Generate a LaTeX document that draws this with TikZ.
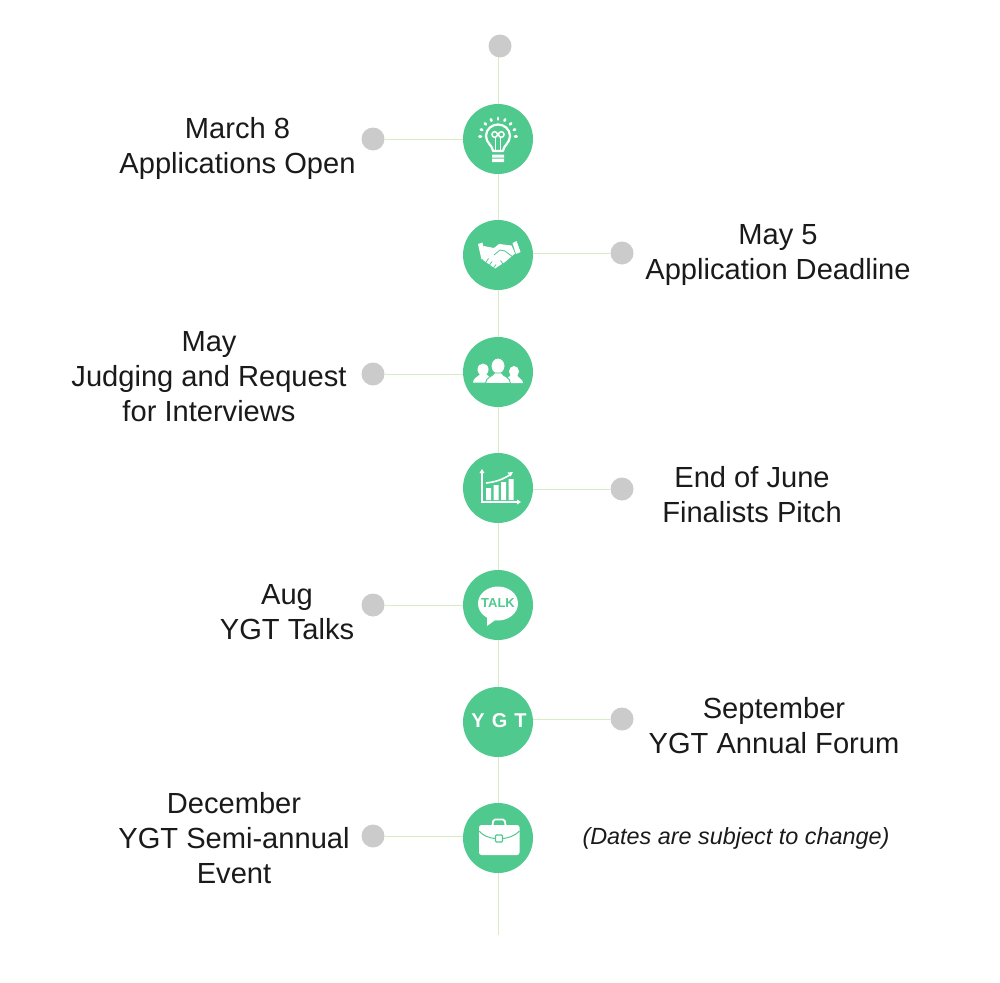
\documentclass[tikz,border=0pt]{standalone}
\usepackage{fontspec}
\setmainfont{Liberation Sans}
\usetikzlibrary{positioning, backgrounds, calc}
\definecolor{stepgreen}{HTML}{50C98E}
\definecolor{linkgreen}{HTML}{D6EDC4}
\definecolor{dotgray}{HTML}{CBCBCB}
\definecolor{labelblack}{HTML}{1A1A1A}

\begin{document}
\begin{tikzpicture}[x=1pt, y=-1pt,
    % Big green circles on the line
    stepcircle/.style={circle, fill=stepgreen, minimum size=70pt, inner sep=0pt},
    % Small gray dots
    graydot/.style={circle, fill=dotgray, minimum size=23pt, inner sep=0pt},
    link/.style={draw=linkgreen, line width=0.9pt},
    % Labels
    steplabel/.style={font=\fontsize{29.1}{35}\selectfont, text=labelblack, align=center, inner sep=0pt},
    notelabel/.style={font=\fontsize{23.4}{28}\selectfont\itshape, text=labelblack, inner sep=0pt},
    % Icon parts
    iconline/.style={draw=white, line width=2.2pt},
    iconcut/.style={draw=stepgreen, line width=0.8pt}
]
\useasboundingbox (0,0) rectangle (1000,982);

% Dots and circles
\node[graydot] (topdot) at (500,46) {};
\coordinate (lineend) at (498.7,935);
\foreach \i/\y in {1/139, 2/255, 3/372, 4/488, 5/605, 6/722, 7/838} {
    \node[stepcircle] (step\i) at (498,\y) {};
}
\foreach \i/\x/\y in {1/373/139, 2/622/253, 3/373/374, 4/622/489, 5/373/605, 6/622/719, 7/373/836} {
    \node[graydot] (dot\i) at (\x,\y) {};
}

% Connectors behind everything
\begin{scope}[on background layer]
    \draw[link] (lineend |- topdot) -- (lineend);
    \foreach \i in {1,...,7} {
        \draw[link] (dot\i) -- (dot\i -| step\i);
    }
\end{scope}

% Labels
\node[steplabel] (label1) at (237.5,148) {March 8\\Applications Open};
\node[steplabel] (label2) at (778,255) {May 5\\Application Deadline};
\node[steplabel] (label3) at (209,377) {May\\Judging and Request\\for Interviews};
\node[steplabel] (label4) at (752,495) {End of June\\Finalists Pitch};
\node[steplabel] (label5) at (287,612) {Aug\\YGT Talks};
\node[steplabel] (label6) at (774,726) {September\\YGT Annual Forum};
\node[steplabel] (label7) at (234,838) {December\\YGT Semi-annual\\Event};
\node[notelabel] (note) at (736,838) {(Dates are subject to change)};

% Light bulb
\begin{scope}[shift={(step1.center)}]
    \draw[iconline, line join=round] (-5,12) .. controls (-5,7) and (-12,4) .. (-12,-3) .. controls (-12,-10) and (-6,-14.5) .. (0,-14.5) .. controls (6,-14.5) and (12,-10) .. (12,-3) .. controls (12,4) and (5,7) .. (5,12) -- cycle;
    \draw[iconline, line width=1.5pt] (-2.5,12) -- (-2.5,-2) (2.5,12) -- (2.5,-2);
    \draw[iconline, line width=1.5pt] (-3.3,-4.5) circle (2.8) (3.3,-4.5) circle (2.8);
    \fill[white] (-6,15.5) rectangle (6,18.5) (-6,19.7) rectangle (6,23);
    \foreach \a in {180,202.5,...,360} {
        \draw[iconline, line width=2.6pt, line cap=round] ($(0,-2.5)+(\a:17)$) -- ($(0,-2.5)+(\a:18.6)$);
    }
\end{scope}

% Handshake
\begin{scope}[shift={(step2.center)}]
    \fill[white] (-20,-11) -- (-15.5,-12.5) -- (-12,3) -- (-16.5,4.5) -- cycle;
    \fill[white] (14.5,-12) -- (18.5,-14) -- (22.5,-3) -- (18,-1) -- cycle;
    \fill[white] (-14.5,-9) -- (-4,-7) -- (1,-11) -- (13.5,-9.5) -- (17,-1.5) -- (7,7) -- (-3,13.5) -- (-15,5) -- cycle;
    \draw[iconcut] (-4,0) -- (2,-5) -- (7,-4) -- (15.5,2.5);
    \draw[iconcut] (-12,7.2) -- (-9.5,3.5) (-8.5,10) -- (-6,6.5) (-4.5,13) -- (-2,9.5) (5,9) -- (2.5,5.5);
\end{scope}

% People
\begin{scope}[shift={(step3.center)}]
    \fill[white] (-15,-2.5) ellipse (5.5 and 6);
    \fill[white] (16,-0.5) ellipse (5 and 5.5);
    \fill[white] (-25,10.5) .. controls (-25,6) and (-20,5) .. (-18,2) -- (-12,2) .. controls (-10,4) and (-6,6) .. (-5,10.5) -- cycle;
    \fill[white] (25,11) .. controls (25,7) and (20,6) .. (19,3) -- (13,3) .. controls (11,5) and (7,7) .. (6,11) -- cycle;
    \draw[fill=white, draw=stepgreen, line width=0.9pt] (0,-6) ellipse (7 and 8);
    \draw[fill=white, draw=stepgreen, line width=0.9pt] (-12.5,11.5) .. controls (-12.5,5) and (-5,4.5) .. (-3.5,1) -- (3.5,1) .. controls (5,4.5) and (12.5,5) .. (12.5,11.5) -- cycle;
\end{scope}

% Chart
\begin{scope}[shift={(step4.center)}]
    \draw[iconline, line width=1.2pt] (-16,-16) -- (-16,14) -- (21,14);
    \fill[white] (-16,-19) -- (-18.5,-15) -- (-13.5,-15) -- cycle;
    \fill[white] (23,14) -- (19,11.5) -- (19,16.5) -- cycle;
    \fill[white] (-12,0) rectangle (-7,12) (-4.5,-3) rectangle (0.5,12) (3,-6) rectangle (8,12) (10.5,-9) rectangle (15.5,12);
    \draw[iconline, line width=1.6pt] (-12,-5) .. controls (-2,-6) and (6,-9) .. (13,-14);
    \fill[white] (15,-16) -- (9.5,-15.5) -- (12.5,-11.5) -- cycle;
\end{scope}

% Talk bubble
\begin{scope}[shift={(step5.center)}]
    \fill[white] (0,-1.5) ellipse (20 and 17);
    \fill[white] (-11,10) -- (-11,21) -- (0,13) -- cycle;
    \node[font=\fontsize{13}{14}\selectfont\bfseries, text=stepgreen, inner sep=0pt] (talk) at (0,-1.5) {TALK};
\end{scope}

% Logo letters
\node[font=\fontsize{20}{22}\selectfont\bfseries, text=white, inner sep=0pt] (logo) at ($(step6.center)+(1,-1)$) {Y\kern7pt G\kern7pt T};

% Briefcase
\begin{scope}[shift={(step7.center)}]
    \draw[iconline, line width=1.8pt, rounded corners=1.5pt] (-5.5,-13) -- (-4.5,-18.5) -- (6.5,-18.5) -- (7.5,-13);
    \fill[white, rounded corners=2.5pt] (-19,-13) rectangle (21.5,17);
    \draw[draw=stepgreen, line width=1pt] (-19,-7) .. controls (-15,-2) and (-8,0) .. (-3,0.5) (5,0.5) .. controls (10,0) and (17,-2) .. (21.5,-7);
    \draw[draw=stepgreen, fill=white, line width=1.2pt, rounded corners=1pt] (-2.5,-3) rectangle (4.5,4);
\end{scope}

\end{tikzpicture}
\end{document}
